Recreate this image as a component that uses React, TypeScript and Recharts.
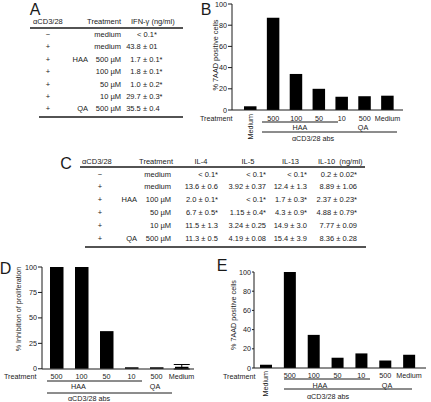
import React from 'react';
import { BarChart, Bar, XAxis, YAxis, ErrorBar } from 'recharts';

const FONT = '"Liberation Sans", Arial, Helvetica, sans-serif';
const INK = '#1a1a1a';

// A: IFN-gamma table
const ifnHeader = ['αCD3/28', 'Treatment', 'IFN-γ (ng/ml)'];
const ifnSigns = ['−', '+', '+', '+', '+', '+', '+'];
const ifnDrugs = ['', '', 'HAA', '', '', '', 'QA'];
const ifnDoses = ['medium', 'medium', '500 µM', '100 µM', '50 µM', '10 µM', '500 µM'];
const ifnValues = ['< 0.1*', '43.8 ± 01', '1.7 ± 0.1*', '1.8 ± 0.1*', '1.0 ± 0.2*', '29.7 ± 0.3*', '35.5 ± 0.4'];

// B: % 7AAD positive cells
const bTicks = ['Medium', '500', '100', '50', '10', '500', 'Medium'];
const bValues = [3.5, 87, 34, 20, 12.5, 13, 13.5];

// C: cytokine table
const cHeader = ['αCD3/28', 'Treatment', 'IL-4', 'IL-5', 'IL-13', 'IL-10  (ng/ml)'];
const cSigns = ['−', '+', '+', '+', '+', '+'];
const cDrugs = ['', '', 'HAA', '', '', 'QA'];
const cDoses = ['medium', 'medium', '100 µM', '50 µM', '10 µM', '500 µM'];
const il4 = ['< 0.1*', '13.6 ± 0.6', '2.0 ± 0.1*', '6.7 ± 0.5*', '11.5 ± 1.3', '11.3 ± 0.5'];
const il5 = ['< 0.1*', '3.92 ± 0.37', '< 0.1*', '1.15 ± 0.4*', '3.24 ± 0.25', '4.19 ± 0.08'];
const il13 = ['< 0.1*', '12.4 ± 1.3', '1.7 ± 0.3*', '4.3 ± 0.9*', '14.9 ± 3.0', '15.4 ± 3.9'];
const il10 = ['0.2 ± 0.02*', '8.89 ± 1.06', '2.37 ± 0.23*', '4.88 ± 0.79*', '7.77 ± 0.09', '8.36 ± 0.28'];

// D: % inhibition of proliferation
const dTicks = ['500', '100', '50', '10', '500', 'Medium'];
const dValues = [100, 100, 37, 1.5, 1.5, 2];
const dErrors = [0, 0, 0, 0, 0, 2.2];

// E: % 7AAD positive cells
const eTicks = ['Medium', '500', '100', '50', '10', '500', 'Medium'];
const eValues = [3.4, 100, 34.5, 10.7, 15.2, 7.8, 13.8];

const yTicks20 = [0, 20, 40, 60, 80, 100];
const yTicks25 = [0, 25, 50, 75, 100];

const Txt = ({ x, y, children, anchor = 'start', size = 7.5, rotate = false }: any) => (
  <text
    x={x}
    y={y}
    fontSize={size}
    fontFamily={FONT}
    fill={INK}
    textAnchor={anchor}
    dominantBaseline="central"
    style={{ whiteSpace: 'pre' }}
    transform={rotate ? `rotate(-90 ${x} ${y})` : undefined}
  >
    {children}
  </text>
);

// value aligned on the ± sign
const PmVal = ({ x, y, v }: { x: number; y: number; v: string }) => {
  if (!v.includes('±')) return <Txt x={x + 2} y={y} anchor="middle">{v}</Txt>;
  const [a, b] = v.split(' ± ');
  return (
    <>
      <Txt x={x - 4.2} y={y} anchor="end">{a}</Txt>
      <Txt x={x} y={y} anchor="middle">±</Txt>
      <Txt x={x + 4.2} y={y}>{b}</Txt>
    </>
  );
};

const Rule = ({ x1, x2, y, w = 1 }: any) => (
  <line x1={x1} x2={x2} y1={y} y2={y} stroke={INK} strokeWidth={w} />
);

const Overlay = () => {
  const aRows = ifnSigns.map((_, i) => 34.5 + i * 12.4);
  const cRows = cSigns.map((_, i) => 174 + i * 12.8);
  const cCols = [218, 266, 307, 357];
  const cVals = [il4, il5, il13, il10];
  return (
    <svg
      width={431}
      height={402}
      style={{ position: 'absolute', left: 0, top: 0, pointerEvents: 'none' }}
    >
      {/* panel letters */}
      <Txt x={35} y={9} size={16} anchor="middle">A</Txt>
      <Txt x={206} y={9.5} size={16} anchor="middle">B</Txt>
      <Txt x={66} y={163} size={16} anchor="middle">C</Txt>
      <Txt x={5.5} y={268} size={16} anchor="middle">D</Txt>
      <Txt x={222} y={265} size={16} anchor="middle">E</Txt>

      {/* table A */}
      <Txt x={33} y={21.5}>{ifnHeader[0]}</Txt>
      <Txt x={121} y={21.5} anchor="end">{ifnHeader[1]}</Txt>
      <Txt x={131} y={21.5}>{ifnHeader[2]}</Txt>
      <Rule x1={30} x2={183} y={28} w={1.3} />
      {aRows.map((y, i) => (
        <g key={`a${i}`}>
          <Txt x={48} y={y} anchor="middle">{ifnSigns[i]}</Txt>
          <Txt x={88} y={y} anchor="end">{ifnDrugs[i]}</Txt>
          <Txt x={121} y={y} anchor="end">{ifnDoses[i]}</Txt>
          <PmVal x={145} y={y} v={ifnValues[i]} />
        </g>
      ))}
      <Rule x1={39} x2={183} y={117} w={1.3} />

      {/* table C */}
      <Txt x={82} y={161}>{cHeader[0]}</Txt>
      <Txt x={173} y={161} anchor="end">{cHeader[1]}</Txt>
      <Txt x={201} y={161} anchor="middle">{cHeader[2]}</Txt>
      <Txt x={248} y={161} anchor="middle">{cHeader[3]}</Txt>
      <Txt x={290.5} y={161} anchor="middle">{cHeader[4]}</Txt>
      <Txt x={318} y={161}>{cHeader[5]}</Txt>
      <Rule x1={80} x2={365} y={167} w={1.3} />
      {cRows.map((y, i) => (
        <g key={`c${i}`}>
          <Txt x={100} y={y} anchor="middle">{cSigns[i]}</Txt>
          <Txt x={137} y={y} anchor="end">{cDrugs[i]}</Txt>
          <Txt x={171} y={y} anchor="end">{cDoses[i]}</Txt>
          {cVals.map((col, j) => (
            <Txt key={j} x={cCols[j]} y={y} anchor="end">{col[i]}</Txt>
          ))}
        </g>
      ))}
      <Rule x1={85} x2={366} y={247} w={1.3} />

      {/* B annotations */}
      <Txt x={215} y={55} size={7.3} anchor="middle" rotate>% 7AAD positive cells</Txt>
      <Txt x={200} y={118} size={7.2}>Treatment</Txt>
      <Rule x1={262} x2={338} y={122} />
      <Txt x={300} y={127} size={7.2} anchor="middle">HAA</Txt>
      <Txt x={363} y={127} size={7.2} anchor="middle">QA</Txt>
      <Rule x1={262} x2={397} y={132} />
      <Txt x={313} y={138} size={7.2} anchor="middle">αCD3/28 abs</Txt>

      {/* D annotations */}
      <Txt x={18.5} y={309} size={7.2} anchor="middle" rotate>% Inhibition of proliferation</Txt>
      <Txt x={4} y={376.5} size={7.2}>Treatment</Txt>
      <Rule x1={47} x2={142} y={381} />
      <Txt x={78.5} y={386} size={7.2} anchor="middle">HAA</Txt>
      <Txt x={155} y={386} size={7.2} anchor="middle">QA</Txt>
      <Rule x1={47} x2={172} y={393} />
      <Txt x={89} y={398.5} size={7.2} anchor="middle">αCD3/28 abs</Txt>

      {/* E annotations */}
      <Txt x={233} y={315} size={7.2} anchor="middle" rotate>% 7AAD positive cells</Txt>
      <Txt x={223} y={376.5} size={7.2}>Treatment</Txt>
      <Rule x1={284} x2={370} y={379} />
      <Txt x={320} y={385} size={7.2} anchor="middle">HAA</Txt>
      <Txt x={387} y={385} size={7.2} anchor="middle">QA</Txt>
      <Rule x1={284} x2={412} y={389} />
      <Txt x={328} y={396} size={7.2} anchor="middle">αCD3/28 abs</Txt>
    </svg>
  );
};

type PanelProps = {
  ticks: string[];
  values: number[];
  errors?: number[];
  left: number;
  top: number;
  width: number;
  height: number;
  margin: { top: number; right: number; bottom: number; left: number };
  yWidth: number;
  yTicks: number[];
  yTickSize: number;
  padLeft: number;
  padRight: number;
  barSize: number;
  tickY: number;
  verticalFirst: boolean;
};

const BarPanel = (p: PanelProps) => {
  const data = p.ticks.map((t, i) => ({
    name: String(i),
    value: p.values[i],
    err: p.errors ? p.errors[i] : 0,
  }));

  const renderTick = (props: any) => {
    const i = Number(props.payload.value);
    const label = p.ticks[i];
    if (p.verticalFirst && i === 0) {
      const vy = p.tickY - 4;
      return (
        <text
          x={props.x}
          y={vy}
          fontSize={7.2}
          fontFamily={FONT}
          fill={INK}
          textAnchor="end"
          dominantBaseline="central"
          transform={`rotate(-90 ${props.x} ${vy})`}
        >
          {label}
        </text>
      );
    }
    return (
      <text
        x={props.x}
        y={p.tickY}
        fontSize={7.2}
        fontFamily={FONT}
        fill={INK}
        textAnchor="middle"
        dominantBaseline="central"
      >
        {label}
      </text>
    );
  };

  return (
    <div style={{ position: 'absolute', left: p.left, top: p.top }}>
      <BarChart width={p.width} height={p.height} data={data} margin={p.margin} barSize={p.barSize}>
        <XAxis
          dataKey="name"
          height={20}
          tickLine={false}
          axisLine={{ stroke: INK, strokeWidth: 1 }}
          padding={{ left: p.padLeft, right: p.padRight }}
          interval={0}
          tick={renderTick}
        />
        <YAxis
          width={p.yWidth}
          domain={[0, 100]}
          ticks={p.yTicks}
          interval={0}
          tickSize={p.yTickSize}
          tickMargin={1}
          axisLine={{ stroke: INK, strokeWidth: 1 }}
          tickLine={{ stroke: INK, strokeWidth: 1 }}
          tick={{ fontSize: 7.2, fill: INK, fontFamily: FONT }}
        />
        <Bar dataKey="value" fill="#000" isAnimationActive={false}>
          {p.errors && (
            <ErrorBar dataKey="err" width={8} stroke="#000" strokeWidth={1} direction="y" />
          )}
        </Bar>
      </BarChart>
    </div>
  );
};

export default function App() {
  return (
    <div
      style={{
        position: 'absolute',
        left: 0,
        top: 0,
        width: 431,
        height: 402,
        background: '#fff',
        overflow: 'hidden',
        fontFamily: FONT,
      }}
    >
      <BarPanel
        ticks={bTicks}
        values={bValues}
        left={200}
        top={0}
        width={231}
        height={150}
        margin={{ top: 4, right: 28, bottom: 20, left: 0 }}
        yWidth={32}
        yTicks={yTicks20}
        yTickSize={4}
        padLeft={7}
        padRight={4}
        barSize={12.5}
        tickY={118}
        verticalFirst
      />
      <BarPanel
        ticks={dTicks}
        values={dValues}
        errors={dErrors}
        left={0}
        top={250}
        width={210}
        height={152}
        margin={{ top: 17, right: 16, bottom: 13, left: 0 }}
        yWidth={42}
        yTicks={yTicks25}
        yTickSize={4}
        padLeft={2}
        padRight={0}
        barSize={13.5}
        tickY={126}
        verticalFirst={false}
      />
      <BarPanel
        ticks={eTicks}
        values={eValues}
        left={215}
        top={250}
        width={216}
        height={152}
        margin={{ top: 22, right: 5, bottom: 14, left: 0 }}
        yWidth={39}
        yTicks={yTicks20}
        yTickSize={2}
        padLeft={0}
        padRight={5}
        barSize={12}
        tickY={125}
        verticalFirst
      />
      <Overlay />
    </div>
  );
}
